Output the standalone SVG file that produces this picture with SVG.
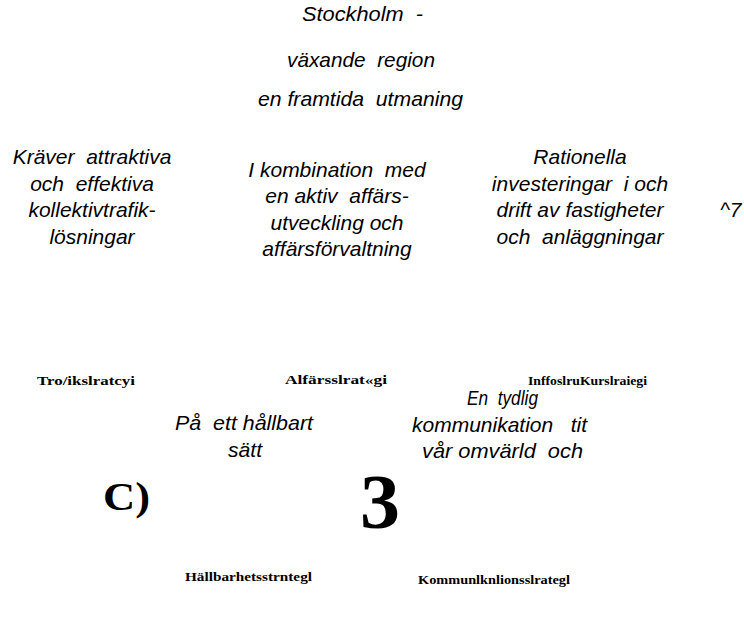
<svg xmlns="http://www.w3.org/2000/svg" width="744" height="619" viewBox="0 0 744 619">
<style>
.it{font-family:"Liberation Sans",Arial,sans-serif;font-style:italic;font-size:21px;fill:#000;white-space:pre}
.c{text-anchor:middle}
.lb{font-family:"Liberation Serif","Times New Roman",serif;font-weight:bold;font-size:12px;fill:#000}
.big{font-family:"Liberation Serif","Times New Roman",serif;font-weight:bold;fill:#000}
</style>
<rect width="744" height="619" fill="#fff"/>
<g id="title">
<text class="it" x="302" y="21" textLength="121" lengthAdjust="spacingAndGlyphs">Stockholm  -</text>
<text class="it" x="287" y="67" textLength="148" lengthAdjust="spacingAndGlyphs">växande  region</text>
<text class="it" x="258" y="106" textLength="205" lengthAdjust="spacingAndGlyphs">en framtida  utmaning</text>
</g>
<g id="col1">
<text class="it c" x="92" y="164">Kräver  attraktiva</text>
<text class="it c" x="92" y="191">och  effektiva</text>
<text class="it c" x="92" y="217">kollektivtrafik-</text>
<text class="it c" x="92" y="244">lösningar</text>
</g>
<g id="col2">
<text class="it c" x="337" y="177">I kombination  med</text>
<text class="it c" x="337" y="203">en aktiv  affärs-</text>
<text class="it c" x="337" y="230">utveckling och</text>
<text class="it c" x="337" y="256">affärsförvaltning</text>
</g>
<g id="col3">
<text class="it c" x="580" y="164">Rationella</text>
<text class="it c" x="580" y="191">investeringar  i och</text>
<text class="it c" x="580" y="217">drift av fastigheter</text>
<text class="it c" x="580" y="244">och  anläggningar</text>
<text class="it" x="720" y="217">^7</text>
</g>
<g id="labels">
<text class="lb" x="37" y="385" textLength="98" lengthAdjust="spacingAndGlyphs">Tro/ikslratcyi</text>
<text class="lb" x="285" y="384" textLength="102" lengthAdjust="spacingAndGlyphs">Alfärsslrat«gi</text>
<text class="lb" x="528" y="385" textLength="119" lengthAdjust="spacingAndGlyphs">InffoslruKurslraiegi</text>
</g>
<g id="mid">
<text class="it" x="175" y="430" textLength="138" lengthAdjust="spacingAndGlyphs">På  ett hållbart</text>
<text class="it" x="228" y="457" textLength="34" lengthAdjust="spacingAndGlyphs">sätt</text>
<text class="it" x="467" y="405" textLength="71" lengthAdjust="spacingAndGlyphs">En  tydlig</text>
<text class="it" x="412" y="432" textLength="175" lengthAdjust="spacingAndGlyphs">kommunikation   tit</text>
<text class="it" x="422" y="458" textLength="161" lengthAdjust="spacingAndGlyphs">vår omvärld  och</text>
<text class="big" x="103" y="510" font-size="40" textLength="47" lengthAdjust="spacingAndGlyphs">C)</text>
<text class="big" x="360" y="528" font-size="78" textLength="40" lengthAdjust="spacingAndGlyphs">3</text>
</g>
<g id="bottom">
<text class="lb" x="185" y="581" textLength="127" lengthAdjust="spacingAndGlyphs">Hällbarhetsstrntegl</text>
<text class="lb" x="418" y="584" textLength="152" lengthAdjust="spacingAndGlyphs">Kommunlknlionsslrategl</text>
</g>
</svg>
